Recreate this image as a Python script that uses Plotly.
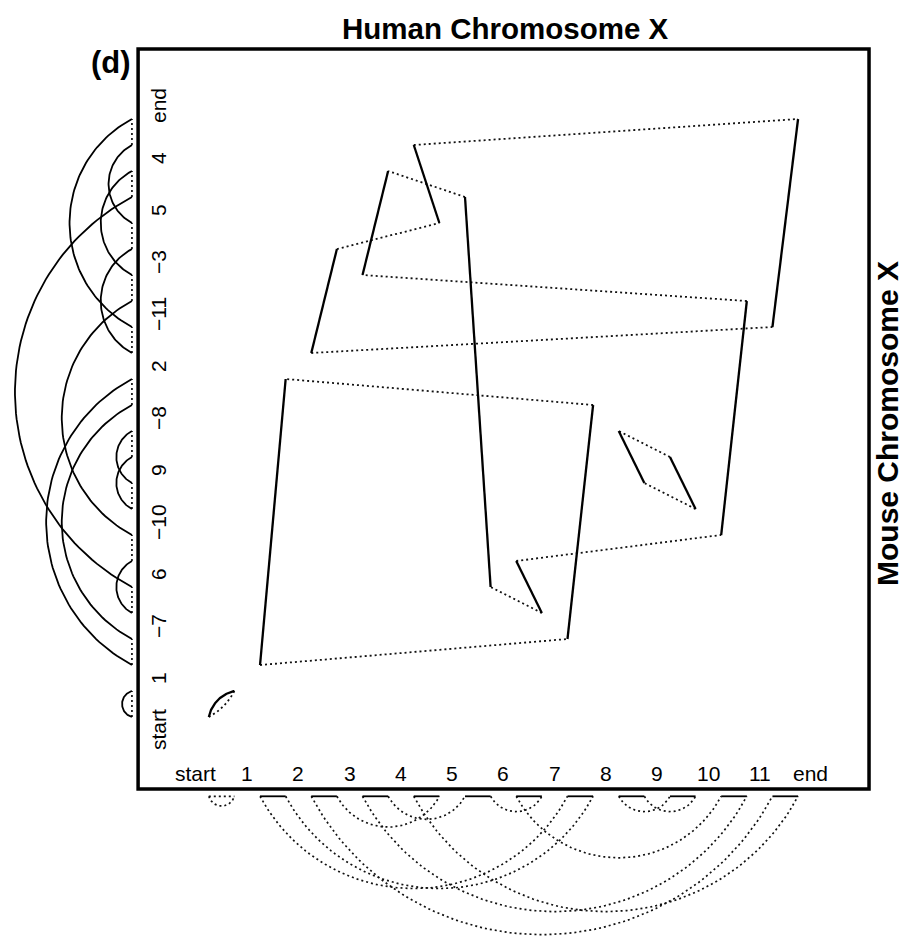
import numpy as np
import plotly.graph_objects as go

# ---------------- data ----------------
human_labels = ["start", "1", "2", "3", "4", "5", "6", "7", "8", "9", "10", "11", "end"]
mouse_labels = ["start", "1", "\u22127", "6", "\u221210", "9", "\u22128", "2",
                "\u221211", "\u22123", "5", "4", "end"]
# human block k (1..11) occupies human ends 2k and 2k+1; the mouse end
# (position index on the mouse axis) matched to each human end:
mouse_end_at_left = [2, 14, 17, 22, 20, 6, 3, 11, 10, 7, 15]
mouse_end_at_right = [13, 18, 21, 19, 5, 4, 12, 9, 8, 16, 23]
start_ends = [0, 1]          # the "start" telomere block (same on both)
label_pos = [2 * k - 0.5 for k in range(13)]   # tick label positions

# ---------------- layout constants ----------------
W, H = 907, 940
XR = [-8.150, 27.252]
YR = [-8.577, 27.577]
SX = W / (XR[1] - XR[0])
SY = H / (YR[1] - YR[0])
FRAME = dict(x0=-2.76, x1=25.77, y0=-2.77, y1=25.69)
U_LEFT = -3.0     # where the mouse-side arcs are drawn
V_BOT = -3.05     # where the human-side arcs are drawn
FONT = "Liberation Sans, Arial, Helvetica, sans-serif"


def arc(p, q, k, side, n_pts=80):
    P = np.array([p[0] * SX, p[1] * SY])
    Q = np.array([q[0] * SX, q[1] * SY])
    d = Q - P
    c = np.hypot(*d)
    t = d / c
    n = np.array([-t[1], t[0]]) * side
    s = k * c
    R = (c * c / 4 + s * s) / (2 * s)
    M = (P + Q) / 2
    C = M - n * (R - s)
    th = np.arcsin(min(1.0, (c / 2) / R))
    phi = np.linspace(-th, th, n_pts)
    pts = C[None, :] + R * (np.cos(phi)[:, None] * n[None, :] + np.sin(phi)[:, None] * t[None, :])
    return list(pts[:, 0] / SX), list(pts[:, 1] / SY)


# map mouse end -> human end
u_of_v = {0: 0, 1: 1}
for k in range(11):
    u_of_v[mouse_end_at_left[k]] = 2 * (k + 1)
    u_of_v[mouse_end_at_right[k]] = 2 * (k + 1) + 1

solid_x, solid_y = [], []
dot_x, dot_y = [], []
arcs_solid_x, arcs_solid_y = [], []
arcs_dot_x, arcs_dot_y = [], []


def add(xs, ys, ax, ay):
    xs.extend(list(ax) + [None])
    ys.extend(list(ay) + [None])


# main plot: solid = same human block, dotted = same mouse block
for k in range(11):
    u0, u1 = 2 * (k + 1), 2 * (k + 1) + 1
    add(solid_x, solid_y, [u0, u1], [mouse_end_at_left[k], mouse_end_at_right[k]])
for m in range(1, 12):
    v0, v1 = 2 * m, 2 * m + 1
    add(dot_x, dot_y, [u_of_v[v0], u_of_v[v1]], [v0, v1])
# start block (both adjacencies join the same two points)
ax_, ay_ = arc((start_ends[0], start_ends[0]), (start_ends[1], start_ends[1]), 0.15, 1)
add(solid_x, solid_y, ax_, ay_)
ax_, ay_ = arc((start_ends[0], start_ends[0]), (start_ends[1], start_ends[1]), 0.08, -1)
add(dot_x, dot_y, ax_, ay_)

# left side: solid arcs joining mouse ends of the same human block, dotted bars for mouse blocks
for k in range(11):
    a, b = sorted([mouse_end_at_left[k], mouse_end_at_right[k]])
    ax_, ay_ = arc((U_LEFT, a), (U_LEFT, b), 0.30, 1)
    add(arcs_solid_x, arcs_solid_y, ax_, ay_)
ax_, ay_ = arc((U_LEFT, start_ends[0]), (U_LEFT, start_ends[1]), 0.38, 1)
add(arcs_solid_x, arcs_solid_y, ax_, ay_)
for m in range(12):
    add(arcs_dot_x, arcs_dot_y, [U_LEFT, U_LEFT], [2 * m, 2 * m + 1])

# bottom: dotted arcs joining human ends of the same mouse block, solid bars for human blocks
for m in range(1, 12):
    a, b = sorted([u_of_v[2 * m], u_of_v[2 * m + 1]])
    ax_, ay_ = arc((a, V_BOT), (b, V_BOT), 0.30, -1)
    add(arcs_dot_x, arcs_dot_y, ax_, ay_)
ax_, ay_ = arc((start_ends[0], V_BOT), (start_ends[1], V_BOT), 0.38, -1)
add(arcs_dot_x, arcs_dot_y, ax_, ay_)
for k in range(1, 12):
    add(arcs_solid_x, arcs_solid_y, [2 * k, 2 * k + 1], [V_BOT, V_BOT])
add(arcs_dot_x, arcs_dot_y, [start_ends[0], start_ends[1]], [V_BOT, V_BOT])

fig = go.Figure()
fig.add_trace(go.Scatter(x=dot_x, y=dot_y, mode="lines",
                         line=dict(color="#111", width=1.8, dash="2px,3px"), hoverinfo="skip"))
fig.add_trace(go.Scatter(x=solid_x, y=solid_y, mode="lines",
                         line=dict(color="black", width=2.3), hoverinfo="skip"))
fig.add_trace(go.Scatter(x=arcs_dot_x, y=arcs_dot_y, mode="lines",
                         line=dict(color="#111", width=1.7, dash="2px,3px"), hoverinfo="skip"))
fig.add_trace(go.Scatter(x=arcs_solid_x, y=arcs_solid_y, mode="lines",
                         line=dict(color="black", width=1.8), hoverinfo="skip"))

fig.add_shape(type="rect", xref="x", yref="y", line=dict(color="black", width=3.5),
              fillcolor="rgba(0,0,0,0)", **FRAME)

ann = []
for lab, p in zip(human_labels, label_pos):
    ann.append(dict(x=p, y=-2.154, xref="x", yref="y", text=lab, showarrow=False,
                    xanchor="center", yanchor="middle",
                    font=dict(family=FONT, size=21, color="black")))
for lab, p in zip(mouse_labels, label_pos):
    ann.append(dict(x=-1.983, y=p, xref="x", yref="y", text=lab, showarrow=False,
                    textangle=-90, xanchor="center", yanchor="middle",
                    font=dict(family=FONT, size=21, color="black")))
ann.append(dict(x=505 / W, y=1 - 28 / H, xref="paper", yref="paper",
                text="<b>Human Chromosome X</b>", showarrow=False,
                xanchor="center", yanchor="middle",
                font=dict(family=FONT, size=29.5, color="black")))
ann.append(dict(x=887 / W, y=1 - 424 / H, xref="paper", yref="paper",
                text="<b>Mouse Chromosome X</b>", showarrow=False, textangle=-90,
                xanchor="center", yanchor="middle", borderpad=0,
                font=dict(family=FONT, size=30, color="black")))
ann.append(dict(x=111 / W, y=1 - 62 / H, xref="paper", yref="paper",
                text="<b>(d)</b>", showarrow=False,
                xanchor="center", yanchor="middle",
                font=dict(family=FONT, size=31, color="black")))

fig.update_layout(
    width=W, height=H, margin=dict(l=0, r=0, t=0, b=0),
    paper_bgcolor="white", plot_bgcolor="white", showlegend=False,
    xaxis=dict(range=XR, visible=False, fixedrange=True),
    yaxis=dict(range=YR, visible=False, fixedrange=True),
    annotations=ann,
)
fig.write_html("out.html")
